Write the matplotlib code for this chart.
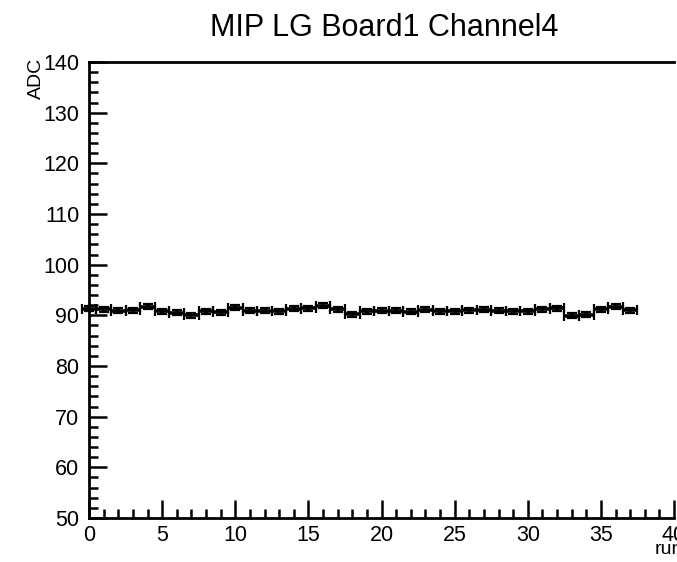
import numpy as np
import matplotlib
matplotlib.use('Agg')
import matplotlib.pyplot as plt
from matplotlib.ticker import MultipleLocator

plt.rcParams['font.family'] = ['Liberation Sans', 'DejaVu Sans']

TITLE = 'MIP LG Board1 Channel4'
run = np.arange(38)
adc = [91.3, 91.2, 90.9, 91.0, 91.7, 90.8, 90.5, 90.0, 90.8, 90.6,
       91.5, 90.9, 90.9, 90.8, 91.3, 91.4, 91.9, 91.2, 90.2, 90.8,
       90.9, 90.9, 90.7, 91.1, 90.8, 90.8, 91.0, 91.1, 90.9, 90.8,
       90.8, 91.2, 91.4, 89.9, 90.1, 91.2, 91.7, 91.0]
adc_err = [0.5] * len(adc)
run_err = [0.5] * len(adc)

fig = plt.figure(figsize=(6.77, 5.62), dpi=100)
ax = fig.add_axes([89 / 677, 1 - 518 / 562, 585 / 677, 456 / 562])

# ROOT-style points: x error = bin half width, y error with end caps
eb = ax.errorbar(run, adc, xerr=run_err, yerr=adc_err, fmt='none', ecolor='black',
                 elinewidth=2.6, capsize=3.5, capthick=1.6)
for art in eb.get_children():
    art.set_clip_on(False)

ax.set_xlim(0, 40)
ax.set_ylim(50, 140)
ax.xaxis.set_major_locator(MultipleLocator(5))
ax.xaxis.set_minor_locator(MultipleLocator(1))
ax.yaxis.set_major_locator(MultipleLocator(10))
ax.yaxis.set_minor_locator(MultipleLocator(2))
ax.tick_params(which='both', direction='in', width=1.8, labelsize=15.5)
ax.tick_params(which='major', length=13)
ax.tick_params(which='minor', length=6.5)
ax.tick_params(axis='x', which='both', top=False, pad=5)
ax.tick_params(axis='y', which='both', right=False, pad=7)
for side in ('left', 'bottom', 'top'):
    ax.spines[side].set_linewidth(2.0)
ax.spines['right'].set_visible(False)

fig.text(384 / 677, 1 - 28 / 562, TITLE, ha='center', va='center', fontsize=22)
fig.text(36 / 677, 1 - 58 / 562, 'ADC', ha='center', va='top', rotation=90, fontsize=14)
fig.text(655 / 677, 1 - 550 / 562, 'run', ha='left', va='center', fontsize=14)

fig.savefig('out.png', dpi=100)
